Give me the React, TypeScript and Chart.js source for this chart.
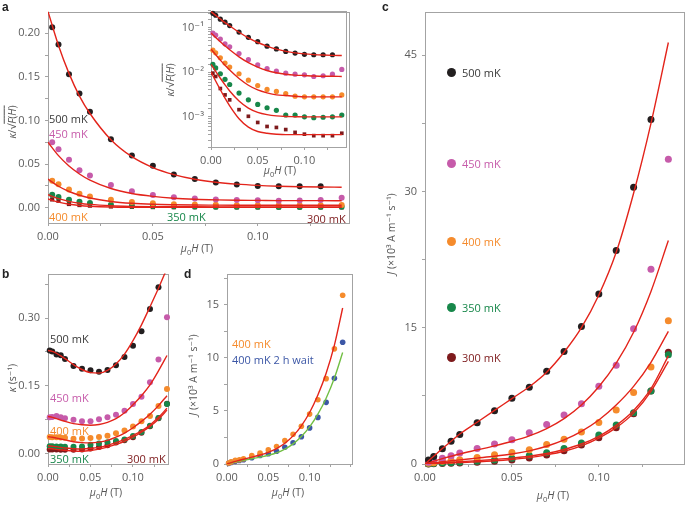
import React, { useEffect, useRef } from 'react';
import { Chart, registerables } from 'chart.js';
Chart.register(...registerables);

const FONT = "'Open Sans', 'DejaVu Sans', sans-serif";
const FRAME = '#a3a3a3';
const TICK_TXT = '#5c5c5c';
const C500 = '#231f20';
const C450 = '#c65baa';
const C400 = '#f58b2c';
const C350 = '#17874a';
const C300 = '#7d1a1c';
const CBLUE = '#3c57a6';
const RED = '#e3241b';
const GFIT = '#72bf44';

// field values (T)
const H_PTS = [0.002, 0.005, 0.01, 0.015, 0.02, 0.03, 0.04, 0.05, 0.06, 0.07, 0.08, 0.09, 0.10, 0.11, 0.12, 0.13, 0.14];
const H_FIT = [0, 0.005, 0.01, 0.015, 0.02, 0.03, 0.04, 0.05, 0.06, 0.07, 0.08, 0.09, 0.10, 0.11, 0.12, 0.13, 0.14];

// panel a: kappa / sqrt(F(H))
const A_500 = [0.207, 0.187, 0.153, 0.131, 0.110, 0.0785, 0.060, 0.048, 0.038, 0.033, 0.029, 0.0267, 0.025, 0.0245, 0.0245, 0.0245, null];
const A_450 = [0.075, 0.067, 0.055, 0.043, 0.037, 0.026, 0.019, 0.0145, 0.012, 0.0105, 0.0095, 0.009, 0.0087, 0.008, 0.0083, 0.009, 0.0115];
const A_400 = [0.031, 0.027, 0.021, 0.016, 0.013, 0.0092, 0.0066, 0.005, 0.0041, 0.0037, 0.0033, 0.0029, 0.0028, 0.0028, 0.0028, 0.0028, 0.0031];
const A_350 = [0.015, 0.0124, 0.0092, 0.0069, 0.0053, 0.0034, 0.0024, 0.0019, 0.0016, 0.0014, 0.0011, 0.0011, 0.001, 0.00096, 0.00098, 0.001, 0.0011];
const A_300 = [0.0095, 0.008, 0.0043, 0.0031, 0.0024, 0.00145, 0.00103, 0.00075, 0.00061, 0.00058, 0.00052, 0.00045, 0.00041, 0.00038, 0.00038, 0.00038, 0.00043];
const AF_500 = [0.225, 0.186, 0.154, 0.128, 0.108, 0.078, 0.0585, 0.046, 0.038, 0.0326, 0.0292, 0.027, 0.0256, 0.0247, 0.0241, 0.0237, 0.0235];
const AF_450 = [0.075, 0.0597, 0.0478, 0.0387, 0.0316, 0.022, 0.0163, 0.013, 0.0109, 0.0097, 0.009, 0.0086, 0.0084, 0.0082, 0.0081, 0.0081, 0.008];
const AF_400 = [0.0328, 0.0246, 0.0186, 0.0143, 0.0111, 0.0072, 0.0051, 0.004, 0.00344, 0.0031, 0.003, 0.0029, 0.0028, 0.0028, 0.0028, 0.0028, 0.0028];
const AF_350 = [0.015, 0.0104, 0.0073, 0.0052, 0.0038, 0.00227, 0.00157, 0.00126, 0.00112, 0.00105, 0.00102, 0.00101, 0.001, 0.001, 0.001, 0.001, 0.001];
const AF_300 = [0.0101, 0.00635, 0.00404, 0.00263, 0.00177, 0.00091, 0.00059, 0.00047, 0.00043, 0.00041, 0.0004, 0.0004, 0.0004, 0.0004, 0.0004, 0.0004, 0.0004];

// panel b: kappa (s^-1)
const B_500 = [0.228, 0.226, 0.219, 0.2175, 0.209, 0.194, 0.1875, 0.1846, 0.181, 0.185, 0.1955, 0.2138, 0.2387, 0.2707, 0.3203, 0.3685, null];
const B_450 = [0.080, 0.081, 0.083, 0.080, 0.078, 0.0744, 0.0715, 0.0715, 0.0758, 0.080, 0.086, 0.0948, 0.1095, 0.1255, 0.1577, 0.208, 0.302];
const B_400 = [0.0365, 0.036, 0.036, 0.0355, 0.035, 0.0328, 0.033, 0.034, 0.0365, 0.039, 0.045, 0.051, 0.0598, 0.0715, 0.083, 0.105, 0.143];
const B_350 = [0.016, 0.016, 0.0155, 0.0155, 0.015, 0.015, 0.0155, 0.019, 0.022, 0.025, 0.0277, 0.031, 0.0387, 0.0475, 0.0613, 0.0788, 0.1095];
const B_300 = [0.009, 0.009, 0.0085, 0.008, 0.008, 0.008, 0.009, 0.011, 0.014, 0.018, 0.024, 0.029, 0.036, 0.046, 0.060, 0.078, 0.110];
const BF_500 = [0.228, 0.226, 0.222, 0.216, 0.21, 0.197, 0.186, 0.179, 0.178, 0.184, 0.198, 0.22, 0.25, 0.285, 0.325, 0.366, 0.41];
const BF_450 = [0.082, 0.080, 0.077, 0.074, 0.071, 0.066, 0.0635, 0.0625, 0.064, 0.069, 0.077, 0.09, 0.108, 0.128, 0.152, 0.183, 0.217];
const BF_400 = [0.037, 0.036, 0.034, 0.032, 0.030, 0.026, 0.024, 0.0235, 0.025, 0.029, 0.036, 0.045, 0.057, 0.071, 0.087, 0.106, 0.128];
const BF_350 = [0.017, 0.016, 0.015, 0.0135, 0.012, 0.0105, 0.010, 0.011, 0.0135, 0.018, 0.024, 0.031, 0.040, 0.050, 0.063, 0.080, 0.100];
const BF_300 = [0.011, 0.0105, 0.009, 0.008, 0.007, 0.0055, 0.005, 0.0065, 0.0095, 0.014, 0.020, 0.027, 0.036, 0.047, 0.060, 0.076, 0.096];

// panel d: J (x10^3 A m^-1 s^-1) at 400 mK
const D_400 = [0.1, 0.2, 0.34, 0.4, 0.5, 0.8, 1.02, 1.33, 1.64, 2.2, 2.81, 3.56, 4.7, 6.06, 8.04, 10.85, 15.9];
const D_400W = [0.06, 0.15, 0.25, 0.33, 0.4, 0.59, 0.8, 0.96, 1.2, 1.58, 2.0, 2.57, 3.4, 4.39, 5.81, 8.07, 11.47];
const DF_400 = [0, 0.13, 0.25, 0.35, 0.45, 0.65, 0.85, 1.1, 1.45, 1.95, 2.65, 3.6, 4.85, 6.5, 8.55, 11.2, 14.7];
const DF_400W = [0, 0.1, 0.2, 0.28, 0.35, 0.5, 0.65, 0.82, 1.05, 1.4, 1.9, 2.6, 3.5, 4.7, 6.2, 8.1, 10.5];

// panel c: J (x10^3 A m^-1 s^-1)
const C_500 = [0.43, 0.83, 1.67, 2.5, 3.26, 4.53, 5.87, 7.25, 8.44, 10.22, 12.39, 15.14, 18.7, 23.5, 30.47, 37.93, null];
const C_450 = [0.2, 0.36, 0.62, 0.9, 1.2, 1.7, 2.21, 2.68, 3.44, 4.35, 5.4, 6.63, 8.55, 10.87, 14.9, 21.45, 33.55];
const C_400 = [0.08, 0.15, 0.3, 0.38, 0.47, 0.72, 1.01, 1.27, 1.56, 2.14, 2.72, 3.51, 4.57, 5.94, 7.86, 10.69, 15.76];
const C_350 = [0.02, 0.05, 0.1, 0.15, 0.2, 0.29, 0.43, 0.62, 0.94, 1.23, 1.7, 2.32, 3.19, 4.28, 5.65, 8.04, 12.03];
const C_300 = [0.01, 0.03, 0.06, 0.09, 0.12, 0.2, 0.3, 0.45, 0.65, 1.0, 1.45, 2.1, 2.9, 3.99, 5.54, 8.04, 12.3];
const CF_500 = [0, 0.85, 1.7, 2.5, 3.3, 4.6, 5.9, 7.2, 8.5, 10.1, 12.3, 15.0, 18.6, 23.3, 29.8, 37.5, 46.4];
const CF_450 = [0, 0.3, 0.6, 0.85, 1.1, 1.55, 2.0, 2.5, 3.1, 3.9, 5.0, 6.5, 8.5, 11.1, 14.5, 19.0, 24.6];
const CF_400 = [0, 0.13, 0.25, 0.35, 0.45, 0.65, 0.85, 1.1, 1.45, 1.95, 2.65, 3.6, 4.85, 6.5, 8.55, 11.2, 14.6];
const CF_350 = [0, 0.06, 0.12, 0.18, 0.25, 0.37, 0.5, 0.65, 0.85, 1.15, 1.6, 2.2, 3.05, 4.25, 5.9, 8.3, 11.9];
const CF_300 = [0, 0.04, 0.08, 0.12, 0.15, 0.25, 0.35, 0.5, 0.7, 1.0, 1.4, 2.0, 2.85, 4.0, 5.6, 8.0, 11.3];

const LEGEND_C = [
  { label: '500 mK', color: C500, y: 72 },
  { label: '450 mK', color: C450, y: 163 },
  { label: '400 mK', color: C400, y: 241 },
  { label: '350 mK', color: C350, y: 307 },
  { label: '300 mK', color: C300, y: 357 },
];

function xy(xs: number[], ys: (number | null)[]) {
  const out: { x: number; y: number }[] = [];
  xs.forEach((x, i) => {
    const v = ys[i];
    if (v != null) out.push({ x, y: v });
  });
  return out;
}

function fitDs(ys: number[], color = RED, width = 1.4) {
  return {
    data: xy(H_FIT, ys),
    borderColor: color,
    borderWidth: width,
    pointRadius: 0,
    fill: false,
    showLine: true,
    cubicInterpolationMode: 'monotone',
  };
}

function ptDs(ys: (number | null)[], color: string, r: number, style = 'circle') {
  return {
    data: xy(H_PTS, ys),
    backgroundColor: color,
    borderColor: color,
    borderWidth: 0,
    pointRadius: r,
    pointStyle: style,
    showLine: false,
    clip: false,
  };
}

const isMult = (v: number, s: number) => Math.abs(v / s - Math.round(v / s)) < 1e-6;

function linAxis(min: number, max: number, step: number, labelStep: number, digits: number, pad: number, labelMax = Infinity) {
  return {
    type: 'linear',
    min,
    max,
    grid: { display: true, drawOnChartArea: false, drawTicks: true, tickLength: 3, color: FRAME },
    border: { display: false },
    ticks: {
      stepSize: step,
      includeBounds: false,
      autoSkip: false,
      maxTicksLimit: 100,
      maxRotation: 0,
      padding: pad,
      color: TICK_TXT,
      font: { family: FONT, size: 11 },
      callback: (v: any) => {
        const n = Number(v);
        return isMult(n, labelStep) && n <= labelMax ? n.toFixed(digits) : '';
      },
    },
  };
}

const SUP: Record<string, string> = { '-': '⁻', '0': '⁰', '1': '¹', '2': '²', '3': '³', '4': '⁴' };

function logAxis(min: number, max: number, pad: number) {
  return {
    type: 'logarithmic',
    min,
    max,
    grid: { display: true, drawOnChartArea: false, drawTicks: true, tickLength: 3, color: FRAME },
    border: { display: false },
    ticks: {
      autoSkip: false,
      padding: pad,
      color: TICK_TXT,
      font: { family: FONT, size: 11 },
      callback: (v: any) => {
        const e = Math.log10(Number(v));
        if (Math.abs(e - Math.round(e)) > 1e-6) return '';
        return '10' + String(Math.round(e)).split('').map((c) => SUP[c] || c).join('');
      },
    },
  };
}

const framePlugin = {
  id: 'frame',
  beforeDatasetsDraw(chart: any) {
    const { ctx, chartArea: a } = chart;
    ctx.save();
    ctx.strokeStyle = FRAME;
    ctx.lineWidth = 1;
    ctx.strokeRect(Math.round(a.left) + 0.5, Math.round(a.top) + 0.5, Math.round(a.right - a.left), Math.round(a.bottom - a.top));
    ctx.restore();
  },
};

type Spec = {
  left: number; top: number; w: number; h: number;
  area: { l: number; t: number; r: number; b: number };
  x: any; y: any; datasets: any[];
};

function Panel({ spec }: { spec: Spec }) {
  const ref = useRef<HTMLCanvasElement | null>(null);
  useEffect(() => {
    const s = spec;
    const yW = s.area.l - s.left;
    const xH = s.top + s.h - s.area.b;
    const chart = new Chart(ref.current as HTMLCanvasElement, {
      type: 'line',
      data: { datasets: s.datasets },
      options: {
        responsive: false,
        animation: false,
        events: [],
        layout: {
          autoPadding: false,
          padding: { left: 0, top: s.area.t - s.top, right: s.left + s.w - s.area.r, bottom: 0 },
        },
        plugins: { legend: { display: false }, tooltip: { enabled: false } },
        scales: {
          x: { ...s.x, position: 'bottom', afterFit: (sc: any) => { sc.height = xH; } },
          y: { ...s.y, position: 'left', afterFit: (sc: any) => { sc.width = yW; } },
        },
      } as any,
      plugins: [framePlugin],
    } as any);
    return () => chart.destroy();
  }, []);
  return (
    <canvas
      ref={ref}
      width={spec.w}
      height={spec.h}
      style={{ position: 'absolute', left: spec.left, top: spec.top, width: spec.w, height: spec.h }}
    />
  );
}

function Txt({ x, y, color = '#444', size = 11, bold = false, children }: any) {
  return (
    <div style={{ position: 'absolute', left: x, top: y, transform: 'translateY(-50%)', color, fontSize: size, fontWeight: bold ? 700 : 400, whiteSpace: 'nowrap', lineHeight: 1 }}>
      {children}
    </div>
  );
}

function CTxt({ x, y, children }: any) {
  return (
    <div style={{ position: 'absolute', left: x, top: y, transform: 'translate(-50%,-50%)', color: '#555', fontSize: 10.5, whiteSpace: 'nowrap', lineHeight: 1 }}>
      {children}
    </div>
  );
}

function VTxt({ x, y, children }: any) {
  return (
    <div style={{ position: 'absolute', left: x, top: y, transform: 'translate(-50%,-50%) rotate(-90deg)', color: '#555', fontSize: 10.5, whiteSpace: 'nowrap', lineHeight: 1 }}>
      {children}
    </div>
  );
}

const MuH = () => (
  <span><i>μ</i><sub style={{ fontSize: 7.5 }}>0</sub><i>H</i> (T)</span>
);
const KappaF = () => (
  <span><i>κ</i>/√<span style={{ textDecoration: 'overline' }}><i>F</i>(<i>H</i>)</span></span>
);
const JUnit = () => (
  <span><i>J</i> (×10³ A m⁻¹ s⁻¹)</span>
);

const LETTER = { fontFamily: "'Liberation Sans', Arial, sans-serif" };

export default function App() {
  const specA: Spec = {
    left: 0, top: 0, w: 356, h: 262,
    area: { l: 48, t: 5, r: 349, b: 223 },
    x: linAxis(0, 0.1435, 0.025, 0.05, 2, 4),
    y: linAxis(-0.0175, 0.2248, 0.025, 0.05, 2, 5),
    datasets: [
      fitDs(AF_500), fitDs(AF_450), fitDs(AF_400), fitDs(AF_350), fitDs(AF_300),
      ptDs(A_500, C500, 3), ptDs(A_450, C450, 3), ptDs(A_400, C400, 3), ptDs(A_350, C350, 3), ptDs(A_300, C300, 3, 'rect'),
    ],
  };
  const specInset: Spec = {
    left: 175, top: 0, w: 180, h: 168,
    area: { l: 211, t: 7, r: 346, b: 147 },
    x: linAxis(0, 0.1445, 0.025, 0.05, 2, 4),
    y: logAxis(2.12e-4, 0.2377, 4),
    datasets: [
      fitDs(AF_500), fitDs(AF_450), fitDs(AF_400), fitDs(AF_350), fitDs(AF_300),
      ptDs(A_500, C500, 2.6), ptDs(A_450, C450, 2.6), ptDs(A_400, C400, 2.6), ptDs(A_350, C350, 2.6), ptDs(A_300, C300, 2.6, 'rect'),
    ],
  };
  const specB: Spec = {
    left: 0, top: 262, w: 176, h: 243,
    area: { l: 48, t: 271, r: 168, b: 464 },
    x: linAxis(0, 0.1412, 0.025, 0.05, 2, 4),
    y: linAxis(-0.0234, 0.3985, 0.075, 0.15, 2, 5),
    datasets: [
      fitDs(BF_500), fitDs(BF_450), fitDs(BF_400), fitDs(BF_350), fitDs(BF_300),
      ptDs(B_500, C500, 3), ptDs(B_450, C450, 3), ptDs(B_400, C400, 3), ptDs(B_350, C350, 3), ptDs(B_300, C300, 3),
    ],
  };
  const specD: Spec = {
    left: 180, top: 262, w: 180, h: 243,
    area: { l: 227, t: 271, r: 352, b: 464 },
    x: linAxis(0, 0.1513, 0.025, 0.05, 2, 4, 0.12),
    y: linAxis(0, 17.94, 2.5, 5, 0, 5),
    datasets: [
      fitDs(DF_400, RED), fitDs(DF_400W, GFIT),
      ptDs(D_400, C400, 2.8), ptDs(D_400W, CBLUE, 2.8),
    ],
  };
  const specC: Spec = {
    left: 380, top: 0, w: 305, h: 505,
    area: { l: 425, t: 5, r: 684, b: 464 },
    x: linAxis(0, 0.149, 0.025, 0.05, 2, 4),
    y: linAxis(0, 49.8, 7.5, 15, 0, 5),
    datasets: [
      fitDs(CF_500), fitDs(CF_450), fitDs(CF_400), fitDs(CF_350), fitDs(CF_300),
      ptDs(C_500, C500, 3.5), ptDs(C_450, C450, 3.5), ptDs(C_400, C400, 3.5), ptDs(C_350, C350, 3.5), ptDs(C_300, C300, 3.5),
    ],
  };

  return (
    <div style={{ position: 'fixed', left: 0, top: 0, width: 685, height: 505, background: '#ffffff', fontFamily: FONT, overflow: 'hidden' }}>
      <Panel spec={specA} />
      <Panel spec={specInset} />
      <Panel spec={specB} />
      <Panel spec={specD} />
      <Panel spec={specC} />

      {/* panel letters */}
      <div style={{ ...LETTER, position: 'absolute', left: 2, top: 0, fontSize: 12, fontWeight: 700, color: '#222' }}>a</div>
      <div style={{ ...LETTER, position: 'absolute', left: 2, top: 267, fontSize: 12, fontWeight: 700, color: '#222' }}>b</div>
      <div style={{ ...LETTER, position: 'absolute', left: 184, top: 267, fontSize: 12, fontWeight: 700, color: '#222' }}>d</div>
      <div style={{ ...LETTER, position: 'absolute', left: 382, top: 0, fontSize: 12, fontWeight: 700, color: '#222' }}>c</div>

      {/* panel a labels */}
      <Txt x={49} y={118} color="#3a3a3a">500 mK</Txt>
      <Txt x={49} y={133} color={C450}>450 mK</Txt>
      <Txt x={49} y={216} color={C400}>400 mK</Txt>
      <Txt x={167} y={216} color={C350}>350 mK</Txt>
      <Txt x={307} y={218} color={C300}>300 mK</Txt>
      <CTxt x={197} y={250}><MuH /></CTxt>
      <VTxt x={12} y={122}><KappaF /></VTxt>
      <CTxt x={280} y={172}><MuH /></CTxt>
      <VTxt x={170} y={80}><KappaF /></VTxt>

      {/* panel b labels */}
      <Txt x={50} y={338} color="#3a3a3a">500 mK</Txt>
      <Txt x={50} y={397} color={C450}>450 mK</Txt>
      <Txt x={50} y={430} color={C400}>400 mK</Txt>
      <Txt x={50} y={458} color={C350}>350 mK</Txt>
      <Txt x={127} y={458} color={C300}>300 mK</Txt>
      <CTxt x={106} y={494}><MuH /></CTxt>
      <VTxt x={12} y={378}><span><i>κ</i> (s⁻¹)</span></VTxt>

      {/* panel d labels */}
      <Txt x={232} y={343} color={C400}>400 mK</Txt>
      <Txt x={232} y={359} color={CBLUE}>400 mK 2 h wait</Txt>
      <CTxt x={288} y={494}><MuH /></CTxt>
      <VTxt x={193} y={375}><JUnit /></VTxt>

      {/* panel c labels */}
      {LEGEND_C.map((l) => (
        <React.Fragment key={l.label}>
          <div style={{ position: 'absolute', left: 447, top: l.y - 4.5, width: 9, height: 9, borderRadius: '50%', background: l.color }} />
          <Txt x={462} y={l.y} color={l.color === C500 ? '#3a3a3a' : l.color}>{l.label}</Txt>
        </React.Fragment>
      ))}
      <CTxt x={553} y={497}><MuH /></CTxt>
      <VTxt x={391} y={234}><JUnit /></VTxt>
    </div>
  );
}
